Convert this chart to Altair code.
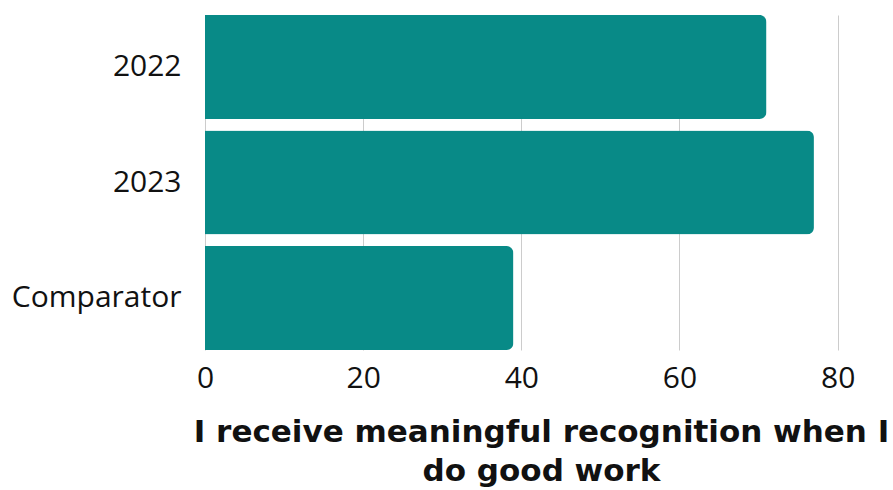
import altair as alt
import pandas as pd

categories = ["2022", "2023", "Comparator"]
values = [71, 77, 39]
x_ticks = [0, 20, 40, 60, 80]
x_title = ["I receive meaningful recognition when I", "do good work"]

df = pd.DataFrame({"cat": categories, "val": values})

chart = alt.Chart(df).mark_bar(color="#088A87", cornerRadiusEnd=7).encode(
    x=alt.X("val:Q",
            scale=alt.Scale(domain=[0, 87], nice=False, zero=True),
            axis=alt.Axis(values=x_ticks, title=x_title, domain=False, ticks=False,
                          grid=True, gridColor="#cccccc", gridWidth=1,
                          labelFont="Open Sans", labelFontSize=30, labelColor="#111111",
                          labelPadding=13, labelFlush=False,
                          titleFont="DejaVu Sans", titleFontSize=31, titleFontWeight="bold",
                          titleColor="#111111", titlePadding=24, titleLineHeight=39,
                          titleX=336, titleAlign="center")),
    y=alt.Y("cat:N", sort=categories,
            scale=alt.Scale(paddingInner=0.1, paddingOuter=0),
            axis=alt.Axis(title=None, domain=False, ticks=False, grid=False,
                          labelFont="Open Sans", labelFontSize=30, labelColor="#111111",
                          labelPadding=24)),
).properties(
    width=688, height=335,
    autosize=alt.AutoSizeParams(type="none"),
    padding={"left": 205, "top": 15, "right": 0, "bottom": 140},
).configure_view(stroke=None)

chart.save("out.html", embed_options={"renderer": "svg", "actions": False})
